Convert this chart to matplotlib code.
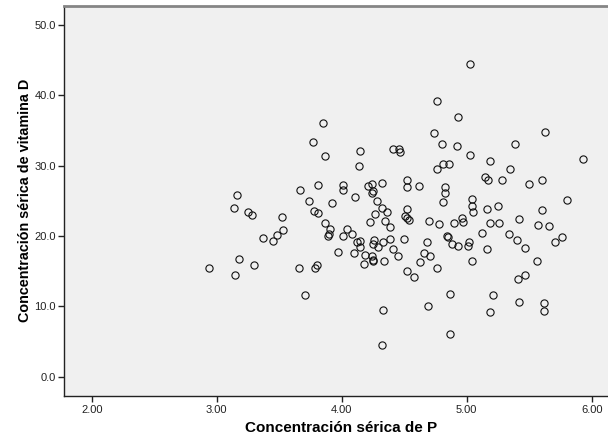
import matplotlib
matplotlib.use("Agg")
import matplotlib.pyplot as plt

plt.rcParams["font.family"] = ["Liberation Sans", "DejaVu Sans"]

# Concentración sérica de P
fosforo = [
    5.03, 4.76, 4.93, 3.85, 5.63, 4.74, 3.77, 4.80, 4.92, 5.39,
    4.41, 4.46, 4.47, 4.15, 3.87, 5.03, 5.93, 5.19, 4.81, 4.86,
    4.14, 4.76, 5.35, 5.15, 5.17, 5.28, 5.60, 4.52, 4.32, 5.50,
    3.81, 4.01, 4.52, 4.62, 4.83, 4.21, 4.24, 4.01, 3.67, 4.25,
    4.24, 4.83, 3.16, 4.11, 5.04, 5.80, 3.74, 4.28, 4.81, 3.92,
    5.04, 5.25, 4.32, 4.52, 5.16, 5.60, 3.14, 3.78, 4.36, 5.05,
    3.25, 3.28, 3.81, 4.27, 4.51, 4.52, 4.54, 3.52, 4.96, 4.97,
    5.42, 4.70, 4.23, 4.35, 3.87, 5.19, 5.26, 4.90, 4.78, 5.57,
    5.66, 4.39, 3.91, 3.53, 4.04, 3.90, 3.89, 5.12, 4.08, 3.48,
    4.01, 5.34, 5.76, 4.84, 4.85, 3.37, 4.50, 4.39, 3.45, 5.40,
    4.15, 4.26, 4.12, 4.33, 5.71, 4.68, 5.02, 4.25, 4.88, 4.93,
    4.29, 5.01, 4.15, 5.47, 5.16, 4.41, 3.97, 4.66, 4.10, 4.19,
    4.45, 4.71, 4.24, 4.25, 4.25, 3.18, 5.56, 4.34, 4.63, 5.04,
    3.30, 3.80, 3.79, 4.18, 2.94, 3.66, 4.76, 4.52, 4.58, 5.47,
    5.41, 3.15, 4.87, 3.71, 5.21, 5.42, 5.62, 4.69, 4.33, 5.19,
    5.62, 4.87, 4.32,
]

# Concentración sérica de vitamina D
vitamina_d = [
    44.4, 39.2, 36.9, 36.0, 34.7, 34.6, 33.4, 33.1, 32.8, 33.0,
    32.4, 32.3, 31.9, 32.1, 31.3, 31.5, 30.9, 30.7, 30.2, 30.2,
    30.0, 29.5, 29.5, 28.4, 27.9, 27.9, 27.9, 27.9, 27.5, 27.4,
    27.3, 27.3, 27.0, 27.1, 26.9, 27.1, 27.4, 26.5, 26.5, 26.4,
    26.1, 26.1, 25.8, 25.5, 25.2, 25.1, 25.0, 25.0, 24.8, 24.7,
    24.3, 24.2, 23.9, 23.8, 23.8, 23.7, 23.9, 23.5, 23.4, 23.4,
    23.4, 23.0, 23.2, 23.1, 22.8, 22.6, 22.2, 22.7, 22.5, 22.0,
    22.4, 22.1, 22.0, 22.1, 21.9, 21.9, 21.8, 21.8, 21.7, 21.5,
    21.4, 21.2, 21.0, 20.8, 21.0, 20.3, 20.0, 20.4, 20.2, 20.1,
    20.0, 20.2, 19.9, 20.0, 19.9, 19.7, 19.6, 19.5, 19.3, 19.4,
    19.3, 19.4, 19.1, 19.1, 19.1, 19.1, 19.1, 18.8, 18.8, 18.5,
    18.4, 18.5, 18.4, 18.3, 18.2, 18.1, 17.7, 17.6, 17.5, 17.3,
    17.1, 17.1, 17.1, 16.6, 16.4, 16.7, 16.4, 16.4, 16.3, 16.4,
    15.9, 15.9, 15.5, 16.0, 15.4, 15.4, 15.5, 15.0, 14.2, 14.5,
    13.9, 14.4, 11.8, 11.6, 11.6, 10.6, 10.4, 10.1, 9.5, 9.2,
    9.4, 6.0, 4.5,
]

x_ticks = [2.0, 3.0, 4.0, 5.0, 6.0]
y_ticks = [0.0, 10.0, 20.0, 30.0, 40.0, 50.0]

fig = plt.figure(figsize=(6.08, 4.44), dpi=100)
ax = fig.add_axes([0.1053, 0.1088, 0.8947 + 0.004, 0.8777])
ax.set_facecolor("#f0f0f0")

ax.plot(fosforo, vitamina_d, linestyle="none", marker="o", markersize=5.2,
        markerfacecolor="none", markeredgecolor="#111111", markeredgewidth=0.8)

ax.set_xlim(1.778, 6.15)
ax.set_ylim(-2.7, 52.66)
ax.set_xticks(x_ticks)
ax.set_yticks(y_ticks)
ax.set_xticklabels([f"{v:.2f}" for v in x_ticks])
ax.set_yticklabels([f"{v:.1f}" for v in y_ticks])
ax.tick_params(direction="out", length=4, width=1, labelsize=8, colors="#222222",
               pad=2)
ax.tick_params(axis="x", pad=3)

ax.spines["right"].set_visible(False)
ax.spines["top"].set_color("#858585")
ax.spines["top"].set_linewidth(2)
for s in ("left", "bottom"):
    ax.spines[s].set_color("#222222")
    ax.spines[s].set_linewidth(1)

ax.set_xlabel("Concentración sérica de P", fontsize=11, fontweight="bold",
              va="center")
ax.set_ylabel("Concentración sérica de vitamina D", fontsize=10.4,
              fontweight="bold", va="center")
ax.xaxis.set_label_coords(0.5 + 4 / 544, -0.083)
ax.yaxis.set_label_coords(-0.0717, 0.5)

fig.savefig("out.png", dpi=100)
